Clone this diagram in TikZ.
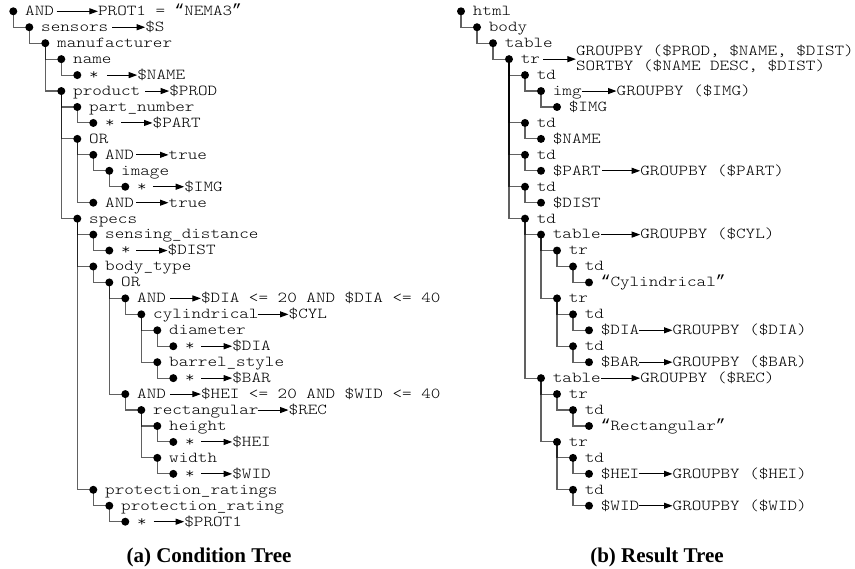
\documentclass[tikz,border=0pt]{standalone}
\usepackage{fontspec}
\setmainfont{Liberation Serif}
\newfontfamily\codefont[FakeStretch=1.2]{Latin Modern Mono Light}
\newfontfamily\quotefont{Liberation Mono}
\newcommand\OpenQ{{\quotefont\fontsize{16}{15}\selectfont “}}
\newcommand\CloseQ{{\quotefont\fontsize{16}{15}\selectfont ”}}
\usetikzlibrary{arrows.meta,calc}

% tree node: name, x origin, level, row, text
\newcommand\Tn[5]{%
  \node[dot] (#1) at ({#2+16*#3},{11.3+15.95*#4}) {};
  \node[lbl, xshift=11.7pt] (#1-t) at (#1.center) {#5};}
% parent-child connector
\newcommand\Tl[2]{\draw[link] (#1.center) |- (#2.center);}
% annotation: source, name, x, row, gap, text
\newcommand\Ta[6]{%
  \node[lbl] (#2) at ({#3-0.8},{11.3+15.95*#4}) {#6};
  \draw[arr] ($(#1-t.east |- #1.center)+(#5,0)$) -- (#2.west |- #1.center);}

\begin{document}
\begin{tikzpicture}[x=1pt,y=-1pt,
  dot/.style={circle,fill=black,inner sep=0pt,minimum size=8pt},
  lbl/.style={anchor=base west,inner sep=0pt,yshift=-4.4pt,
    font=\codefont\fontsize{15.2}{15}\selectfont},
  link/.style={draw=black,draw opacity=0.62,line width=1.1pt},
  arr/.style={draw=black,line width=1pt,-{Triangle[length=8.5pt,width=6pt]}},
  caption/.style={anchor=base,inner sep=0pt,font=\bfseries\fontsize{21}{24}\selectfont}]
\useasboundingbox (0,0) rectangle (855,569);

% ---- condition tree ----
\def\xa{13.3}
\Tn{a0}{\xa}{0}{0}{AND}
\Tn{a1}{\xa}{1}{1}{sensors}
\Tn{a2}{\xa}{2}{2}{manufacturer}
\Tn{a3}{\xa}{3}{3}{name}
\Tn{a4}{\xa}{4}{4}{*}
\Tn{a5}{\xa}{3}{5}{product}
\Tn{a6}{\xa}{4}{6}{part\_number}
\Tn{a7}{\xa}{5}{7}{*}
\Tn{a8}{\xa}{4}{8}{OR}
\Tn{a9}{\xa}{5}{9}{AND}
\Tn{a10}{\xa}{6}{10}{image}
\Tn{a11}{\xa}{7}{11}{*}
\Tn{a12}{\xa}{5}{12}{AND}
\Tn{a13}{\xa}{4}{13}{specs}
\Tn{a14}{\xa}{5}{14}{sensing\_distance}
\Tn{a15}{\xa}{6}{15}{*}
\Tn{a16}{\xa}{5}{16}{body\_type}
\Tn{a17}{\xa}{6}{17}{OR}
\Tn{a18}{\xa}{7}{18}{AND}
\Tn{a19}{\xa}{8}{19}{cylindrical}
\Tn{a20}{\xa}{9}{20}{diameter}
\Tn{a21}{\xa}{10}{21}{*}
\Tn{a22}{\xa}{9}{22}{barrel\_style}
\Tn{a23}{\xa}{10}{23}{*}
\Tn{a24}{\xa}{7}{24}{AND}
\Tn{a25}{\xa}{8}{25}{rectangular}
\Tn{a26}{\xa}{9}{26}{height}
\Tn{a27}{\xa}{10}{27}{*}
\Tn{a28}{\xa}{9}{28}{width}
\Tn{a29}{\xa}{10}{29}{*}
\Tn{a30}{\xa}{5}{30}{protection\_ratings}
\Tn{a31}{\xa}{6}{31}{protection\_rating}
\Tn{a32}{\xa}{7}{32}{*}

\Tl{a0}{a1}\Tl{a1}{a2}\Tl{a2}{a3}\Tl{a3}{a4}\Tl{a2}{a5}
\Tl{a5}{a6}\Tl{a6}{a7}\Tl{a5}{a8}\Tl{a8}{a9}\Tl{a9}{a10}
\Tl{a10}{a11}\Tl{a8}{a12}\Tl{a5}{a13}\Tl{a13}{a14}\Tl{a14}{a15}
\Tl{a13}{a16}\Tl{a16}{a17}\Tl{a17}{a18}\Tl{a18}{a19}\Tl{a19}{a20}
\Tl{a20}{a21}\Tl{a19}{a22}\Tl{a22}{a23}\Tl{a17}{a24}\Tl{a24}{a25}
\Tl{a25}{a26}\Tl{a26}{a27}\Tl{a25}{a28}\Tl{a28}{a29}\Tl{a13}{a30}
\Tl{a30}{a31}\Tl{a31}{a32}

\Ta{a0}{v0}{98.7}{0}{2.5}{PROT1 = \OpenQ NEMA3\CloseQ}
\Ta{a1}{v1}{146}{1}{3.8}{\$S}
\Ta{a4}{v4}{138}{4}{8}{\$NAME}
\Ta{a5}{v5}{170}{5}{5}{\$PROD}
\Ta{a7}{v7}{153.3}{7}{6.3}{\$PART}
\Ta{a9}{v9}{169.3}{9}{2}{true}
\Ta{a11}{v11}{185}{11}{6}{\$IMG}
\Ta{a12}{v12}{169.3}{12}{2}{true}
\Ta{a15}{v15}{168.3}{15}{5.3}{\$DIST}
\Ta{a18}{v18}{201.7}{18}{3.8}{\$DIA <= 20 AND \$DIA <= 40}
\Ta{a19}{v19}{289.3}{19}{-1}{\$CYL}
\Ta{a21}{v21}{233}{21}{6.3}{\$DIA}
\Ta{a23}{v23}{233}{23}{6.3}{\$BAR}
\Ta{a24}{v24}{201.7}{24}{3.8}{\$HEI <= 20 AND \$WID <= 40}
\Ta{a25}{v25}{289.3}{25}{-1}{\$REC}
\Ta{a27}{v27}{233}{27}{6.3}{\$HEI}
\Ta{a29}{v29}{233}{29}{6.3}{\$WID}
\Ta{a32}{v32}{185}{32}{6.6}{\$PROT1}

% ---- result tree ----
\def\xb{461}
\Tn{b0}{\xb}{0}{0}{html}
\Tn{b1}{\xb}{1}{1}{body}
\Tn{b2}{\xb}{2}{2}{table}
\Tn{b3}{\xb}{3}{3}{tr}
\Tn{b4}{\xb}{4}{4}{td}
\Tn{b5}{\xb}{5}{5}{img}
\Tn{b6}{\xb}{6}{6}{\$IMG}
\Tn{b7}{\xb}{4}{7}{td}
\Tn{b8}{\xb}{5}{8}{\$NAME}
\Tn{b9}{\xb}{4}{9}{td}
\Tn{b10}{\xb}{5}{10}{\$PART}
\Tn{b11}{\xb}{4}{11}{td}
\Tn{b12}{\xb}{5}{12}{\$DIST}
\Tn{b13}{\xb}{4}{13}{td}
\Tn{b14}{\xb}{5}{14}{table}
\Tn{b15}{\xb}{6}{15}{tr}
\Tn{b16}{\xb}{7}{16}{td}
\Tn{b17}{\xb}{8}{17}{\OpenQ Cylindrical\CloseQ}
\Tn{b18}{\xb}{6}{18}{tr}
\Tn{b19}{\xb}{7}{19}{td}
\Tn{b20}{\xb}{8}{20}{\$DIA}
\Tn{b21}{\xb}{7}{21}{td}
\Tn{b22}{\xb}{8}{22}{\$BAR}
\Tn{b23}{\xb}{5}{23}{table}
\Tn{b24}{\xb}{6}{24}{tr}
\Tn{b25}{\xb}{7}{25}{td}
\Tn{b26}{\xb}{8}{26}{\OpenQ Rectangular\CloseQ}
\Tn{b27}{\xb}{6}{27}{tr}
\Tn{b28}{\xb}{7}{28}{td}
\Tn{b29}{\xb}{8}{29}{\$HEI}
\Tn{b30}{\xb}{7}{30}{td}
\Tn{b31}{\xb}{8}{31}{\$WID}

\Tl{b0}{b1}\Tl{b1}{b2}\Tl{b2}{b3}\Tl{b3}{b4}\Tl{b4}{b5}
\Tl{b5}{b6}\Tl{b3}{b7}\Tl{b7}{b8}\Tl{b3}{b9}\Tl{b9}{b10}
\Tl{b3}{b11}\Tl{b11}{b12}\Tl{b3}{b13}\Tl{b13}{b14}\Tl{b14}{b15}
\Tl{b15}{b16}\Tl{b16}{b17}\Tl{b14}{b18}\Tl{b18}{b19}\Tl{b19}{b20}
\Tl{b18}{b21}\Tl{b21}{b22}\Tl{b13}{b23}\Tl{b23}{b24}\Tl{b24}{b25}
\Tl{b25}{b26}\Tl{b23}{b27}\Tl{b27}{b28}\Tl{b28}{b29}\Tl{b27}{b30}
\Tl{b30}{b31}

% two-line annotation of the outer row
\node[lbl] (trA) at (575.9,{11.3+15.95*3-8.5}) {GROUPBY (\$PROD, \$NAME, \$DIST)};
\node[lbl] (trB) at (575.9,{11.3+15.95*3+6.5}) {SORTBY (\$NAME DESC, \$DIST)};
\draw[arr] ($(b3-t.east |- b3.center)+(3,0)$) -- (trA.west |- b3.center);

\Ta{b5}{w5}{617.3}{5}{0}{GROUPBY (\$IMG)}
\Ta{b10}{w10}{641}{10}{1.4}{GROUPBY (\$PART)}
\Ta{b14}{w14}{641}{14}{0.4}{GROUPBY (\$CYL)}
\Ta{b20}{w20}{673.3}{20}{0}{GROUPBY (\$DIA)}
\Ta{b22}{w22}{673.3}{22}{0}{GROUPBY (\$BAR)}
\Ta{b23}{w23}{641}{23}{0.4}{GROUPBY (\$REC)}
\Ta{b29}{w29}{673.3}{29}{0}{GROUPBY (\$HEI)}
\Ta{b31}{w31}{673.3}{31}{0}{GROUPBY (\$WID)}

% captions
\node[caption] (capa) at (209,562) {(a) Condition Tree};
\node[caption] (capb) at (657,562) {(b) Result Tree};
\end{tikzpicture}
\end{document}
